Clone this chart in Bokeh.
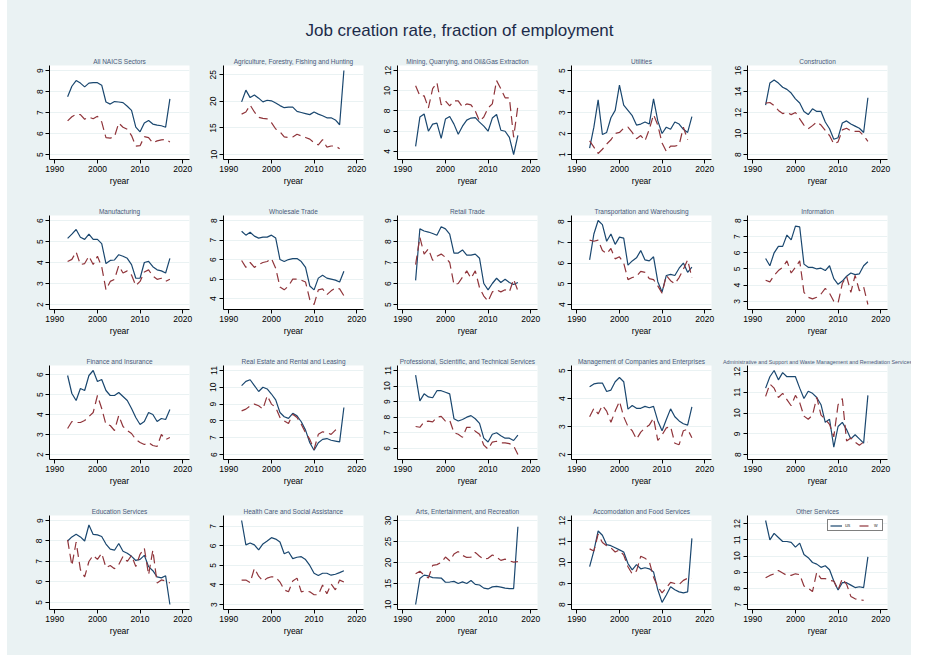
import math

from bokeh.plotting import figure
from bokeh.layouts import column, row
from bokeh.models import (FixedTicker, Range1d, Legend, LegendItem, Label,
                          Spacer)
from bokeh.embed import file_html
from bokeh.resources import INLINE

NAN = float("nan")

years = list(range(1993, 2018))
x_ticks = [1990, 2000, 2010, 2020]

# ---- job creation rate by sector (solid = us, dashed = w) ----
all_us = [7.75, 8.25, 8.52, 8.4, 8.22, 8.4, 8.42, 8.42, 8.3, 7.5, 7.4, 7.52, 7.5,
          7.47, 7.3, 7.1, 6.3, 6.08, 6.5, 6.62, 6.45, 6.4, 6.37, 6.3, 7.65]
all_w = [6.6, 6.8, 6.92, 6.9, 6.68, 6.78, 6.7, 6.82, 6.55, 5.8, 5.78, 5.85, 6.5,
         6.3, 6.2, 5.9, 5.4, 5.42, 5.85, 5.8, 5.55, 5.65, 5.7, 5.72, 5.6]
all_ticks = [5, 6, 7, 8, 9]

agri_us = [19.9, 22.1, 20.7, 21.2, 20.6, 19.9, 20.2, 20.1, 19.7, 19.2, 18.8, 18.9,
           18.9, 18.1, 17.9, 17.7, 17.5, 18.0, 17.6, 17.3, 16.9, 16.9, 16.5, 15.6, 25.8]
agri_w = [17.6, 18.0, 19.3, 18.0, 17.0, 16.8, 16.7, 16.0, 14.8, 14.3, 13.3, 13.2,
          13.3, 13.8, 13.5, 13.2, 12.9, 12.2, 11.8, 12.8, 11.4, 11.6, 11.6, 11.1, NAN]
agri_ticks = [10, 15, 20, 25]

mining_us = [4.5, 7.4, 7.7, 6.0, 6.7, 6.8, 5.3, 7.2, 7.45, 6.7, 5.7, 6.5, 7.1,
             7.3, 7.35, 6.9, 6.5, 6.0, 7.3, 7.65, 6.1, 6.0, 5.4, 3.7, 5.6]
mining_w = [10.5, 9.5, 9.5, 8.3, 10.2, 10.8, 8.6, 9.0, 8.5, 9.0, 9.0, 8.4, 8.7,
            8.6, 8.0, 7.0, 7.4, 8.3, 8.7, 11.0, 10.2, 9.3, 9.3, 5.4, 8.5]
mining_ticks = [4, 6, 8, 10, 12]

util_us = [1.3, 2.3, 3.6, 1.95, 2.05, 2.75, 3.1, 4.3, 3.35, 3.1, 2.85, 2.4, 2.45,
           2.55, 2.45, 3.65, 2.6, 2.0, 2.3, 2.2, 2.55, 2.45, 2.2, 2.05, 2.8]
util_w = [1.65, 1.35, 1.05, 1.25, 1.5, 1.7, 2.0, 2.05, 2.25, 2.3, 2.05, 1.75, 1.9,
          1.65, 2.2, 2.9, 2.4, 1.55, 1.15, 1.4, 1.4, 1.45, 2.3, 1.7, NAN]
util_ticks = [1, 2, 3, 4, 5]

constr_us = [12.7, 14.8, 15.1, 14.8, 14.4, 14.2, 13.85, 13.3, 12.9, 12.1, 11.8, 12.35,
             12.1, 12.1, 11.1, 10.45, 9.45, 9.6, 11.0, 11.2, 10.9, 10.7, 10.5, 10.1, 13.4]
constr_w = [12.9, 12.95, 12.65, 12.2, 11.9, 12.0, 11.8, 12.0, 11.4, 10.8, 10.45, 10.75,
            11.1, 10.8, 10.3, 9.8, 9.0, 9.2, 10.35, 10.5, 10.25, 10.2, 10.2, 9.8, 9.25]
constr_ticks = [8, 10, 12, 14, 16]

manuf_us = [5.15, 5.35, 5.57, 5.2, 5.1, 5.35, 5.1, 5.1, 4.9, 3.95, 4.1, 4.12, 4.37,
            4.3, 4.2, 3.9, 3.25, 3.25, 4.0, 4.05, 3.8, 3.65, 3.6, 3.5, 4.2]
manuf_w = [4.05, 4.15, 4.5, 3.9, 3.95, 4.3, 3.9, 4.3, 3.8, 2.7, 3.1, 3.2, 3.85,
           3.5, 3.6, 3.4, 2.9, 3.1, 3.55, 3.65, 3.35, 3.2, 3.25, 3.1, 3.2]
manuf_ticks = [2, 3, 4, 5, 6]

whole_us = [7.45, 7.25, 7.4, 7.2, 7.1, 7.15, 7.15, 7.25, 7.1, 6.0, 5.9, 6.0, 6.05,
            6.05, 5.9, 5.6, 4.65, 4.45, 5.05, 5.2, 5.05, 5.0, 4.95, 4.85, 5.4]
whole_w = [5.95, 5.6, 5.85, 5.6, 5.75, 5.85, 5.9, 6.05, 5.55, 4.6, 4.45, 4.65, 5.0,
           5.0, 4.95, 4.85, 3.95, 3.7, 4.45, 4.5, 4.2, 4.4, 4.55, 4.5, 4.15]
whole_ticks = [4, 5, 6, 7, 8]

retail_us = [6.15, 8.6, 8.5, 8.45, 8.38, 8.3, 8.7, 8.6, 8.35, 7.45, 7.45, 7.6, 7.35,
             7.35, 7.4, 7.2, 6.0, 5.7, 6.0, 6.25, 6.05, 6.2, 6.05, 5.95, 6.05]
retail_w = [6.9, 8.2, 7.4, 7.65, 7.1, 7.3, 7.4, 7.25, 7.0, 5.95, 6.0, 6.3, 6.6,
            6.25, 6.6, 5.8, 5.4, 5.15, 5.6, 5.7, 5.6, 5.7, 5.6, 6.2, 5.65]
retail_ticks = [5, 6, 7, 8, 9]

trans_us = [6.15, 7.4, 8.05, 7.85, 7.05, 7.4, 6.9, 7.25, 7.2, 5.9, 6.1, 6.25, 6.6,
            6.15, 6.1, 6.3, 5.1, 4.6, 5.4, 5.45, 5.4, 5.75, 6.0, 5.55, 5.8]
trans_w = [7.1, 7.05, 7.1, 6.6, 6.45, 6.7, 6.2, 6.3, 6.0, 5.2, 5.3, 5.35, 5.6,
           5.55, 5.25, 5.2, 4.9, 4.55, 5.4, 5.15, 5.0, 5.3, 5.7, 6.15, 5.3]
trans_ticks = [4, 5, 6, 7, 8]

info_us = [5.65, 5.2, 6.0, 6.4, 6.4, 7.1, 6.8, 7.65, 7.6, 5.3, 5.1, 5.1, 5.0,
           5.05, 4.9, 5.2, 4.4, 4.05, 4.25, 4.55, 4.75, 4.65, 4.7, 5.2, 5.45]
info_w = [4.3, 4.2, 4.6, 4.9, 5.1, 5.5, 4.75, 5.1, 5.5, 3.55, 3.25, 3.15, 3.25,
          3.45, 3.8, 3.5, 3.0, 2.9, 4.1, 4.55, 3.55, 4.6, 3.65, 3.9, 2.8]
info_ticks = [3, 4, 5, 6, 7, 8]

fin_us = [5.95, 5.05, 4.7, 5.3, 5.2, 5.95, 6.2, 5.65, 5.75, 5.2, 4.95, 4.95, 5.1,
          4.9, 4.7, 4.3, 3.85, 3.5, 3.65, 4.1, 4.0, 3.65, 3.8, 3.75, 4.25]
fin_w = [3.3, 3.65, 3.6, 3.6, 3.7, 3.9, 4.1, 4.95, 4.3, 3.5, 3.45, 3.2, 3.95,
         3.4, 3.2, 3.05, 2.75, 2.6, 2.5, 2.6, 2.45, 2.4, 3.0, 2.75, 2.85]
fin_ticks = [2, 3, 4, 5, 6]

realest_us = [10.1, 10.35, 10.45, 10.1, 9.75, 10.0, 9.9, 9.6, 9.25, 8.5, 8.25, 8.15,
              8.45, 8.3, 7.95, 7.45, 6.7, 6.25, 6.7, 6.9, 6.95, 6.85, 6.8, 6.75, 8.8]
realest_w = [8.6, 8.7, 8.9, 9.0, 8.9, 8.7, 9.5, 9.0, 8.8, 8.2, 8.0, 7.85, 8.4,
             8.2, 7.8, 7.3, 6.9, 6.3, 7.2, 7.35, 7.3, 7.2, 7.45, 7.6, NAN]
realest_ticks = [6, 7, 8, 9, 10, 11]

prof_us = [10.7, 9.05, 9.5, 9.3, 9.25, 9.7, 9.7, 9.6, 9.5, 7.9, 7.75, 7.85, 8.0,
           8.1, 7.9, 7.6, 6.65, 6.4, 6.9, 7.0, 6.8, 6.65, 6.65, 6.5, 6.85]
prof_w = [7.4, 7.35, 7.7, 7.75, 7.7, 8.0, 8.05, 7.75, 7.8, 7.0, 6.9, 6.7, 7.35,
          7.35, 7.1, 6.9, 6.2, 5.95, 6.4, 6.45, 6.35, 6.35, 6.3, 6.15, 5.6]
prof_ticks = [6, 7, 8, 9, 10, 11]

mgmt_us = [4.42, 4.52, 4.55, 4.55, 4.25, 4.3, 4.6, 4.75, 4.6, 3.62, 3.75, 3.65, 3.65,
           3.72, 3.67, 3.72, 3.2, 2.85, 3.25, 3.63, 3.35, 3.2, 3.1, 3.05, 3.7]
mgmt_w = [3.35, 3.65, 3.45, 3.75, 3.55, 3.15, 3.55, 3.9, 3.35, 3.0, 2.85, 2.55, 2.8,
          2.95, 3.05, 3.3, 2.5, 2.7, 2.95, 3.0, 2.4, 2.35, 2.85, 2.9, 2.6]
mgmt_ticks = [2, 3, 4, 5]

admin_us = [11.2, 11.75, 12.05, 11.6, 11.95, 11.75, 11.75, 11.75, 11.2, 10.7, 11.05, 10.95,
            10.75, 10.4, 9.55, 9.7, 8.35, 9.35, 9.55, 9.2, 8.75, 8.95, 8.75, 8.55, 10.85]
admin_w = [10.8, 11.4, 11.2, 10.75, 10.95, 10.65, 10.35, 10.85, 10.5, 9.85, 9.7, 9.9,
           10.75, 9.9, 9.7, 9.45, 8.85, 10.4, 10.7, 8.65, 8.8, 8.6, 8.45, 8.6, 8.6]
admin_ticks = [8, 9, 10, 11, 12]

educ_us = [8.0, 8.2, 8.33, 8.2, 8.0, 8.78, 8.32, 8.3, 8.22, 7.85, 7.6, 7.55, 7.88,
           7.5, 7.4, 7.25, 7.05, 7.1, 7.3, 6.75, 6.55, 6.25, 6.2, 6.3, 4.9]
educ_w = [8.05, 6.8, 7.95, 6.6, 6.25, 7.0, 7.3, 7.1, 7.4, 6.7, 6.8, 6.65, 6.85,
          7.25, 7.0, 7.3, 6.75, 7.35, 7.65, 6.35, 7.55, 5.95, 6.1, 6.05, 5.95]
educ_ticks = [5, 6, 7, 8, 9]

health_us = [7.3, 6.05, 6.15, 6.05, 5.8, 6.1, 6.25, 6.42, 6.35, 6.2, 5.6, 5.7, 5.35,
             5.42, 5.45, 5.3, 5.0, 4.6, 4.48, 4.6, 4.6, 4.5, 4.55, 4.63, 4.73]
health_w = [4.25, 4.25, 4.12, 4.85, 4.45, 4.2, 4.35, 4.42, 4.4, 4.15, 3.75, 3.65, 4.2,
            4.35, 3.65, 3.7, 3.65, 3.5, 3.5, 4.0, 3.55, 4.05, 3.75, 4.25, 4.15]
health_ticks = [3, 4, 5, 6, 7]

arts_us = [10.0, 16.2, 17.0, 16.8, 16.4, 16.35, 16.3, 15.3, 15.35, 15.5, 15.0, 15.4,
           15.0, 15.7, 14.8, 14.65, 13.9, 13.7, 14.2, 14.3, 14.15, 13.9, 13.8, 13.8, 28.5]
arts_w = [17.3, 17.9, 17.0, 16.3, 19.3, 19.5, 20.0, 21.3, 20.4, 22.0, 22.6, 21.7,
          21.2, 21.3, 22.4, 21.5, 20.8, 21.0, 21.8, 21.3, 20.5, 20.8, 20.4, 20.1, 20.2]
arts_ticks = [10, 15, 20, 25, 30]

accom_us = [9.8, 10.55, 11.5, 11.3, 10.85, 10.8, 10.7, 10.6, 10.5, 9.95, 9.65, 9.9,
            9.7, 9.75, 9.7, 9.55, 8.7, 8.1, 8.45, 8.85, 8.7, 8.6, 8.55, 8.6, 11.15]
accom_w = [10.65, 10.55, 11.35, 10.95, 10.8, 10.7, 10.5, 10.6, 10.35, 9.8, 9.45, 9.6,
           10.3, 10.2, 10.05, 9.3, 8.85, 8.55, 8.8, 9.05, 9.0, 8.95, 9.15, 9.25, 9.25]
accom_ticks = [8, 9, 10, 11, 12]

other_us = [12.2, 11.0, 11.4, 11.15, 10.9, 10.9, 10.85, 10.55, 10.8, 10.1, 9.9, 9.6,
            9.5, 9.3, 9.4, 9.15, 8.45, 7.9, 8.35, 8.35, 8.2, 8.05, 8.1, 8.05, 9.95]
other_w = [8.65, 8.8, 8.9, 9.1, 8.95, 8.8, 8.8, 8.9, 8.85, 8.15, 8.0, 7.8, 9.0,
           8.6, 8.6, 8.5, 8.45, 7.9, 8.6, 8.25, 7.5, 7.35, 7.3, 7.25, NAN]
other_ticks = [7, 8, 9, 10, 11, 12]

panels = [
    ("All NAICS Sectors", all_us, all_w, all_ticks),
    ("Agriculture, Forestry, Fishing and Hunting", agri_us, agri_w, agri_ticks),
    ("Mining, Quarrying, and Oil&Gas Extraction", mining_us, mining_w, mining_ticks),
    ("Utilities", util_us, util_w, util_ticks),
    ("Construction", constr_us, constr_w, constr_ticks),
    ("Manufacturing", manuf_us, manuf_w, manuf_ticks),
    ("Wholesale Trade", whole_us, whole_w, whole_ticks),
    ("Retail Trade", retail_us, retail_w, retail_ticks),
    ("Transportation and Warehousing", trans_us, trans_w, trans_ticks),
    ("Information", info_us, info_w, info_ticks),
    ("Finance and Insurance", fin_us, fin_w, fin_ticks),
    ("Real Estate and Rental and Leasing", realest_us, realest_w, realest_ticks),
    ("Professional, Scientific, and Technical Services", prof_us, prof_w, prof_ticks),
    ("Management of Companies and Enterprises", mgmt_us, mgmt_w, mgmt_ticks),
    ("Administrative and Support and Waste Management and Remediation Services",
     admin_us, admin_w, admin_ticks),
    ("Education Services", educ_us, educ_w, educ_ticks),
    ("Health Care and Social Assistance", health_us, health_w, health_ticks),
    ("Arts, Entertainment, and Recreation", arts_us, arts_w, arts_ticks),
    ("Accomodation and Food Services", accom_us, accom_w, accom_ticks),
    ("Other Services", other_us, other_w, other_ticks),
]

# ---- styling ----
BG = "#EAF2F3"
NAVY = "#1A476F"
MAROON = "#90353B"
FONT = "Liberation Sans"
TITLE_COLOR = "#1c2b4a"
SUB_COLOR = "#4b5a7a"

# per-column cell widths and left borders (frames are 140 px wide)
col_width = [186, 174, 175, 174, 195]
col_left = [42, 30, 30, 29, 31]
FRAME_H = 94
TOP = 15


def finite(vals):
    return [v for v in vals if not math.isnan(v)]


def make_panel(title, s_us, s_w, ticks, col, last_row):
    lo = min(min(ticks), min(finite(s_us)), min(finite(s_w)))
    hi = max(max(ticks), max(finite(s_us)), max(finite(s_w)))
    pad = (hi - lo) * 5.0 / 84.0
    bottom = 46 if last_row else 41
    width = col_width[col]
    right = width - col_left[col] - 140
    p = figure(width=width, height=TOP + FRAME_H + bottom,
               x_range=Range1d(1988.75, 2021.6),
               y_range=Range1d(lo - pad, hi + pad),
               output_backend="svg", toolbar_location=None,
               min_border_left=col_left[col], min_border_right=right,
               min_border_top=TOP, min_border_bottom=bottom,
               title=title, background_fill_color="white",
               border_fill_color=BG, outline_line_color=None)
    p.title.text_font = FONT
    p.title.text_font_style = "normal"
    p.title.text_color = SUB_COLOR
    p.title.align = "center"
    p.title.standoff = 1
    # the longest heading is set a little smaller so it stays inside its cell
    if len(title) > 60:
        p.title.text_font_size = "5.4px"
        p.title.offset = -4
    else:
        p.title.text_font_size = "6.5px"

    r_us = p.line(years, s_us, line_color=NAVY, line_width=1.2)
    r_w = p.line(years, s_w, line_color=MAROON, line_width=1.2,
                 line_dash="9 5")

    p.xaxis.ticker = FixedTicker(ticks=x_ticks)
    p.yaxis.ticker = FixedTicker(ticks=ticks)
    p.xaxis.axis_label = "ryear"
    for ax in (p.xaxis, p.yaxis):
        ax.axis_line_color = "black"
        ax.major_tick_line_color = "black"
        ax.major_tick_out = 4
        ax.major_tick_in = 0
        ax.minor_tick_line_color = None
        ax.major_label_text_font = FONT
        ax.major_label_text_font_size = "8.5px"
        ax.major_label_text_color = "black"
    p.xaxis.major_label_standoff = 2
    p.yaxis.major_label_standoff = 3
    p.yaxis.major_label_orientation = "vertical"
    p.xaxis.axis_label_text_font = FONT
    p.xaxis.axis_label_text_font_size = "8.5px"
    p.xaxis.axis_label_text_font_style = "normal"
    p.xaxis.axis_label_text_color = "black"
    p.xaxis.axis_label_standoff = 1

    p.xgrid.visible = False
    p.ygrid.grid_line_color = BG
    p.ygrid.grid_line_width = 1.2
    p.ygrid.ticker = FixedTicker(ticks=ticks)
    return p, r_us, r_w


rows = []
for r in range(4):
    figs = []
    for c in range(5):
        title, s_us, s_w, ticks = panels[r * 5 + c]
        p, r_us, r_w = make_panel(title, s_us, s_w, ticks, c, r == 3)
        if r == 3 and c == 4:
            legend = Legend(items=[LegendItem(label="us", renderers=[r_us]),
                                   LegendItem(label="w", renderers=[r_w])],
                            location="top_right", orientation="horizontal")
            legend.label_text_font = FONT
            legend.label_text_font_size = "5px"
            legend.label_height = 5
            legend.label_width = 6
            legend.glyph_height = 5
            legend.glyph_width = 12
            legend.label_standoff = 3
            legend.spacing = 8
            legend.padding = 2
            legend.margin = 4
            legend.border_line_color = "black"
            legend.border_line_width = 1
            legend.background_fill_color = "white"
            legend.background_fill_alpha = 1.0
            p.add_layout(legend)
        figs.append(p)
    rows.append(row(*figs, spacing=0, styles={"background-color": BG}))

# overall heading strip
head = figure(width=sum(col_width), height=47, x_range=Range1d(0, sum(col_width)),
              y_range=Range1d(0, 47), output_backend="svg", toolbar_location=None,
              x_axis_location=None, y_axis_location=None, min_border=0,
              background_fill_color=BG, border_fill_color=BG,
              outline_line_color=None)
head.xgrid.visible = False
head.ygrid.visible = False
head.add_layout(Label(x=sum(col_width) / 2, y=20,
                      text="Job creation rate, fraction of employment",
                      text_font=FONT, text_font_size="17px",
                      text_color=TITLE_COLOR, text_align="center",
                      text_baseline="middle"))

page = row(Spacer(width=7),
           column(Spacer(height=3), head, *rows, spacing=0,
                  styles={"background-color": BG}),
           spacing=0)

open("out.html", "w").write(file_html(page, INLINE))
